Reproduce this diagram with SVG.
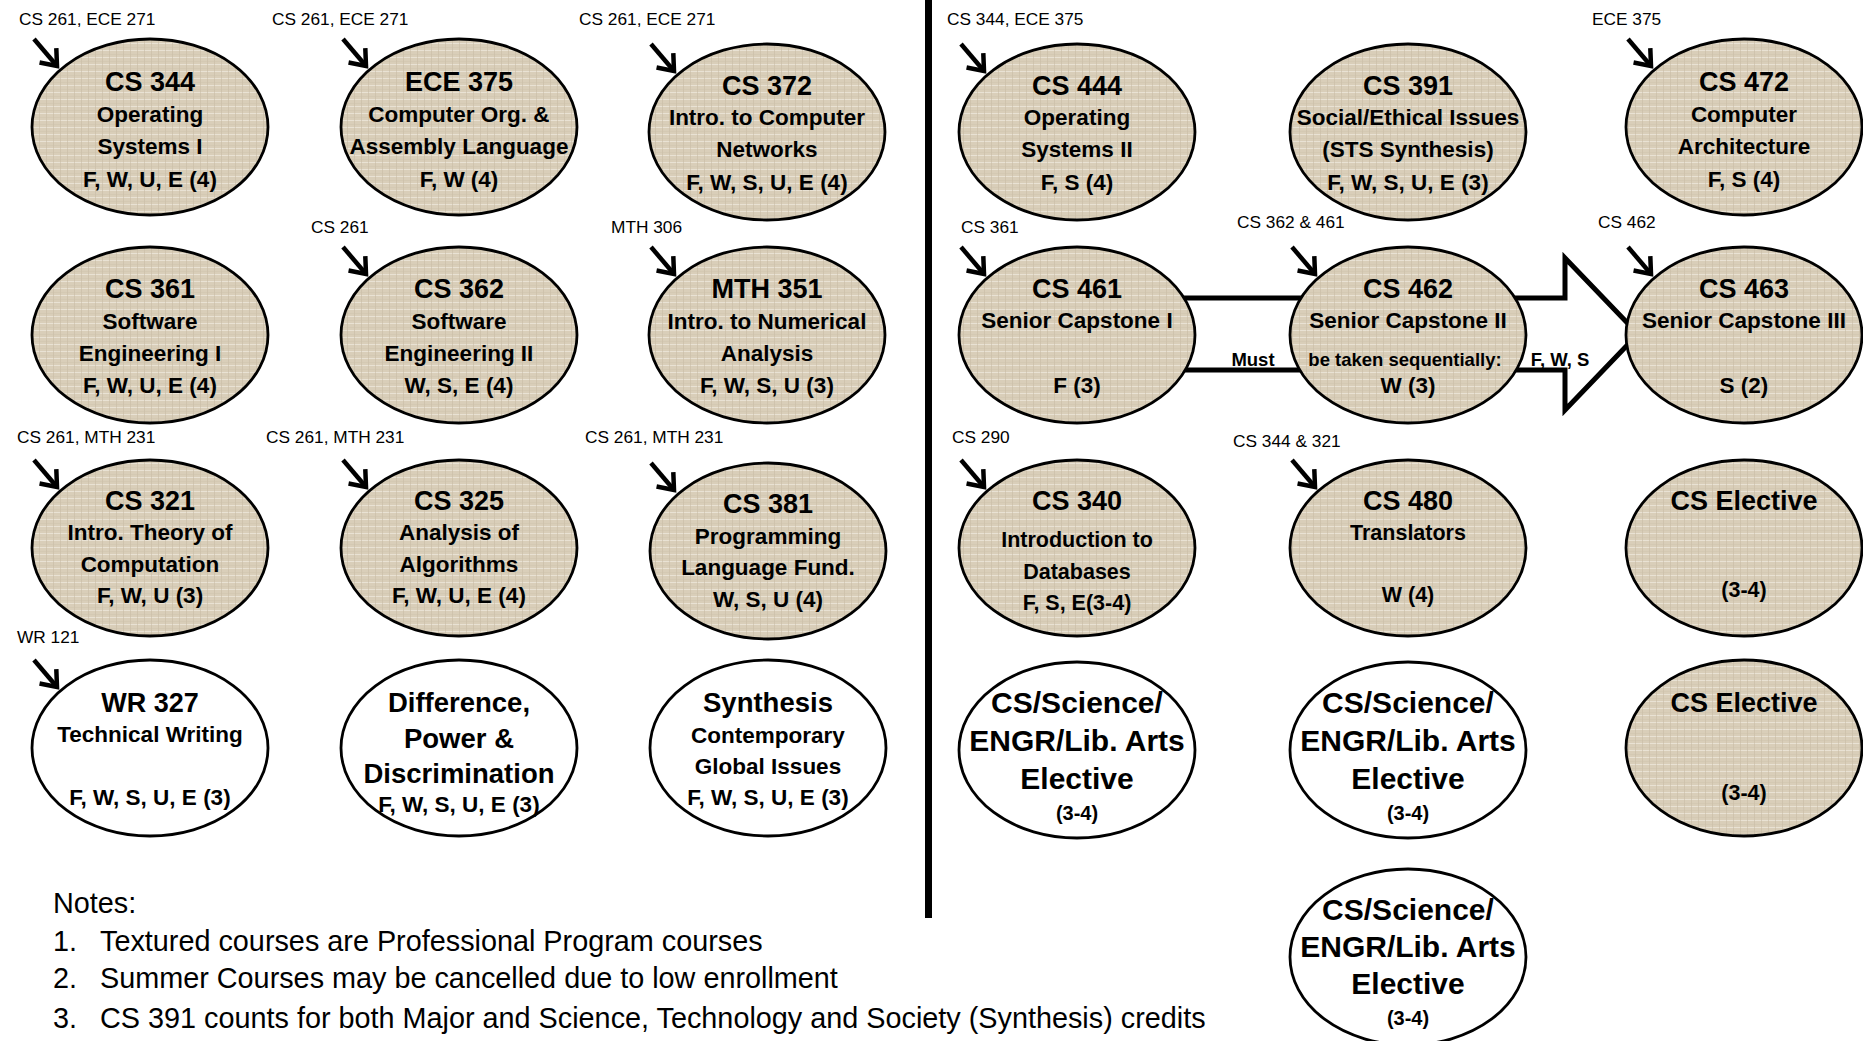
<svg xmlns="http://www.w3.org/2000/svg" width="1863" height="1041" viewBox="0 0 1863 1041">
<style>
.tex{fill:url(#linen);stroke:#000;stroke-width:2.8}
.pl{fill:#fff;stroke:#000;stroke-width:2.8}
text{font-family:"Liberation Sans",Arial,sans-serif;fill:#000}
.t{font-weight:bold;text-anchor:middle}
.h{font-size:27px}
.b{font-size:22.5px}
.s{font-size:21.5px}
.big{font-size:27.5px}
.el{font-size:30px}
.sm{font-size:20px}
.seq{font-size:18.5px}
.lbl{font-size:17.3px}
.note{font-size:28.8px}
.arr{stroke:#000;stroke-width:4.5;fill:none;marker-end:url(#chev)}
</style>
<defs>
<pattern id="linen" width="7" height="7" patternUnits="userSpaceOnUse">
<rect width="7" height="7" fill="#d9ceb9"/>
<path d="M0,1.5H7" stroke="#e9e2d4" stroke-width="1"/>
<path d="M4.5,0V7" stroke="#c6baa4" stroke-width="1" opacity="0.55"/>
<path d="M0,5.5H7" stroke="#cdc1ab" stroke-width="0.8" opacity="0.5"/>
</pattern>
<marker id="chev" viewBox="-20 -16 26 32" refX="0" refY="0" markerWidth="26" markerHeight="32" markerUnits="userSpaceOnUse" orient="auto" overflow="visible">
<path d="M-14,-11 L0,0 L-14,11" fill="none" stroke="#000" stroke-width="4.5"/>
</marker>
</defs>
<rect width="1863" height="1041" fill="#fff"/>

<g id="connectors">
<path id="sequence-arrow" d="M1150,298 L1565,298 L1565,258 L1638,334 L1565,410 L1565,370 L1150,370 Z" fill="#fff" stroke="#000" stroke-width="5" stroke-linejoin="miter"/>
<text class="t seq" x="1253" y="366">Must</text>
<text class="t seq" x="1560" y="366">F, W, S</text>
<line class="arr" x1="34" y1="39" x2="57" y2="66"/>
<line class="arr" x1="343" y1="39" x2="366" y2="66"/>
<line class="arr" x1="651" y1="44" x2="674" y2="71"/>
<line class="arr" x1="961" y1="44" x2="984" y2="71"/>
<line class="arr" x1="1628" y1="39" x2="1651" y2="66"/>
<line class="arr" x1="343" y1="247" x2="366" y2="274"/>
<line class="arr" x1="651" y1="247" x2="674" y2="274"/>
<line class="arr" x1="961" y1="247" x2="984" y2="274"/>
<line class="arr" x1="1292" y1="247" x2="1315" y2="274"/>
<line class="arr" x1="1628" y1="247" x2="1651" y2="274"/>
<line class="arr" x1="34" y1="460" x2="57" y2="487"/>
<line class="arr" x1="343" y1="460" x2="366" y2="487"/>
<line class="arr" x1="651" y1="463" x2="674" y2="490"/>
<line class="arr" x1="961" y1="460" x2="984" y2="487"/>
<line class="arr" x1="1292" y1="460" x2="1315" y2="487"/>
<line class="arr" x1="34" y1="660" x2="57" y2="687"/>
</g>

<g id="prereq-labels">
<text class="lbl" x="19" y="25">CS 261, ECE 271</text>
<text class="lbl" x="272" y="25">CS 261, ECE 271</text>
<text class="lbl" x="579" y="25">CS 261, ECE 271</text>
<text class="lbl" x="947" y="25">CS 344, ECE 375</text>
<text class="lbl" x="1592" y="25">ECE 375</text>
<text class="lbl" x="311" y="233">CS 261</text>
<text class="lbl" x="611" y="233">MTH 306</text>
<text class="lbl" x="961" y="233">CS 361</text>
<text class="lbl" x="1237" y="228">CS 362 &amp; 461</text>
<text class="lbl" x="1598" y="228">CS 462</text>
<text class="lbl" x="17" y="443">CS 261, MTH 231</text>
<text class="lbl" x="266" y="443">CS 261, MTH 231</text>
<text class="lbl" x="585" y="443">CS 261, MTH 231</text>
<text class="lbl" x="952" y="443">CS 290</text>
<text class="lbl" x="1233" y="447">CS 344 &amp; 321</text>
<text class="lbl" x="17" y="643">WR 121</text>
</g>

<rect id="divider" x="925" y="0" width="7" height="918" fill="#000"/>

<g id="cs344"><ellipse class="tex" cx="150" cy="127" rx="118" ry="88"/>
<text class="t h" x="150" y="91">CS 344</text><text class="t b" x="150" y="122">Operating</text><text class="t b" x="150" y="154">Systems I</text><text class="t b" x="150" y="187">F, W, U, E (4)</text></g>
<g id="ece375"><ellipse class="tex" cx="459" cy="127" rx="118" ry="88"/>
<text class="t h" x="459" y="91">ECE 375</text><text class="t b" x="459" y="122">Computer Org. &amp;</text><text class="t b" x="459" y="154">Assembly Language</text><text class="t b" x="459" y="187">F, W (4)</text></g>
<g id="cs372"><ellipse class="tex" cx="767" cy="132" rx="118" ry="88"/>
<text class="t h" x="767" y="95">CS 372</text><text class="t b" x="767" y="125">Intro. to Computer</text><text class="t b" x="767" y="157">Networks</text><text class="t b" x="767" y="190">F, W, S, U, E (4)</text></g>
<g id="cs444"><ellipse class="tex" cx="1077" cy="132" rx="118" ry="88"/>
<text class="t h" x="1077" y="95">CS 444</text><text class="t b" x="1077" y="125">Operating</text><text class="t b" x="1077" y="157">Systems II</text><text class="t b" x="1077" y="190">F, S (4)</text></g>
<g id="cs391"><ellipse class="tex" cx="1408" cy="132" rx="118" ry="88"/>
<text class="t h" x="1408" y="95">CS 391</text><text class="t b" x="1408" y="125">Social/Ethical Issues</text><text class="t b" x="1408" y="157">(STS Synthesis)</text><text class="t b" x="1408" y="190">F, W, S, U, E (3)</text></g>
<g id="cs472"><ellipse class="tex" cx="1744" cy="127" rx="118" ry="88"/>
<text class="t h" x="1744" y="91">CS 472</text><text class="t b" x="1744" y="122">Computer</text><text class="t b" x="1744" y="154">Architecture</text><text class="t b" x="1744" y="187">F, S (4)</text></g>

<g id="cs361"><ellipse class="tex" cx="150" cy="335" rx="118" ry="88"/>
<text class="t h" x="150" y="298">CS 361</text><text class="t b" x="150" y="329">Software</text><text class="t b" x="150" y="361">Engineering I</text><text class="t b" x="150" y="393">F, W, U, E (4)</text></g>
<g id="cs362"><ellipse class="tex" cx="459" cy="335" rx="118" ry="88"/>
<text class="t h" x="459" y="298">CS 362</text><text class="t b" x="459" y="329">Software</text><text class="t b" x="459" y="361">Engineering II</text><text class="t b" x="459" y="393">W, S, E (4)</text></g>
<g id="mth351"><ellipse class="tex" cx="767" cy="335" rx="118" ry="88"/>
<text class="t h" x="767" y="298">MTH 351</text><text class="t b" x="767" y="329">Intro. to Numerical</text><text class="t b" x="767" y="361">Analysis</text><text class="t b" x="767" y="393">F, W, S, U (3)</text></g>
<g id="cs461"><ellipse class="tex" cx="1077" cy="335" rx="118" ry="88"/>
<text class="t h" x="1077" y="298">CS 461</text><text class="t b" x="1077" y="328">Senior Capstone I</text><text class="t b" x="1077" y="393">F (3)</text></g>
<g id="cs462"><ellipse class="tex" cx="1408" cy="335" rx="118" ry="88"/>
<text class="t h" x="1408" y="298">CS 462</text><text class="t b" x="1408" y="328">Senior Capstone II</text><text class="t seq" x="1405" y="366">be taken sequentially:</text><text class="t b" x="1408" y="393">W (3)</text></g>
<g id="cs463"><ellipse class="tex" cx="1744" cy="335" rx="118" ry="88"/>
<text class="t h" x="1744" y="298">CS 463</text><text class="t b" x="1744" y="328">Senior Capstone III</text><text class="t b" x="1744" y="393">S (2)</text></g>

<g id="cs321"><ellipse class="tex" cx="150" cy="548" rx="118" ry="88"/>
<text class="t h" x="150" y="510">CS 321</text><text class="t b" x="150" y="540">Intro. Theory of</text><text class="t b" x="150" y="572">Computation</text><text class="t b" x="150" y="603">F, W, U (3)</text></g>
<g id="cs325"><ellipse class="tex" cx="459" cy="548" rx="118" ry="88"/>
<text class="t h" x="459" y="510">CS 325</text><text class="t b" x="459" y="540">Analysis of</text><text class="t b" x="459" y="572">Algorithms</text><text class="t b" x="459" y="603">F, W, U, E (4)</text></g>
<g id="cs381"><ellipse class="tex" cx="768" cy="551" rx="118" ry="88"/>
<text class="t h" x="768" y="513">CS 381</text><text class="t b" x="768" y="544">Programming</text><text class="t b" x="768" y="575">Language Fund.</text><text class="t b" x="768" y="607">W, S, U (4)</text></g>
<g id="cs340"><ellipse class="tex" cx="1077" cy="548" rx="118" ry="88"/>
<text class="t h" x="1077" y="510">CS 340</text><text class="t s" x="1077" y="547">Introduction to</text><text class="t s" x="1077" y="579">Databases</text><text class="t s" x="1077" y="610">F, S, E(3-4)</text></g>
<g id="cs480"><ellipse class="tex" cx="1408" cy="548" rx="118" ry="88"/>
<text class="t h" x="1408" y="510">CS 480</text><text class="t s" x="1408" y="540">Translators</text><text class="t s" x="1408" y="602">W (4)</text></g>
<g id="cs-elective-1"><ellipse class="tex" cx="1744" cy="548" rx="118" ry="88"/>
<text class="t h" x="1744" y="510">CS Elective</text><text class="t s" x="1744" y="597">(3-4)</text></g>

<g id="wr327"><ellipse class="pl" cx="150" cy="748" rx="118" ry="88"/>
<text class="t h" x="150" y="712">WR 327</text><text class="t b" x="150" y="742">Technical Writing</text><text class="t b" x="150" y="805">F, W, S, U, E (3)</text></g>
<g id="dpd"><ellipse class="pl" cx="459" cy="748" rx="118" ry="88"/>
<text class="t big" x="459" y="712">Difference,</text><text class="t big" x="459" y="748">Power &amp;</text><text class="t big" x="459" y="783">Discrimination</text><text class="t b" x="459" y="812">F, W, S, U, E (3)</text></g>
<g id="synthesis"><ellipse class="pl" cx="768" cy="748" rx="118" ry="88"/>
<text class="t big" x="768" y="712">Synthesis</text><text class="t b" x="768" y="743">Contemporary</text><text class="t b" x="768" y="774">Global Issues</text><text class="t b" x="768" y="805">F, W, S, U, E (3)</text></g>
<g id="elective-a"><ellipse class="pl" cx="1077" cy="750" rx="118" ry="88"/>
<text class="t el" x="1077" y="713">CS/Science/</text><text class="t el" x="1077" y="751">ENGR/Lib. Arts</text><text class="t el" x="1077" y="789">Elective</text><text class="t sm" x="1077" y="820">(3-4)</text></g>
<g id="elective-b"><ellipse class="pl" cx="1408" cy="750" rx="118" ry="88"/>
<text class="t el" x="1408" y="713">CS/Science/</text><text class="t el" x="1408" y="751">ENGR/Lib. Arts</text><text class="t el" x="1408" y="789">Elective</text><text class="t sm" x="1408" y="820">(3-4)</text></g>
<g id="cs-elective-2"><ellipse class="tex" cx="1744" cy="748" rx="118" ry="88"/>
<text class="t h" x="1744" y="712">CS Elective</text><text class="t s" x="1744" y="800">(3-4)</text></g>

<g id="elective-c"><ellipse class="pl" cx="1408" cy="957" rx="118" ry="88"/>
<text class="t el" x="1408" y="920">CS/Science/</text><text class="t el" x="1408" y="957">ENGR/Lib. Arts</text><text class="t el" x="1408" y="994">Elective</text><text class="t sm" x="1408" y="1025">(3-4)</text></g>

<g id="notes">
<text class="note" x="53" y="913">Notes:</text>
<text class="note" x="53" y="951">1.</text><text class="note" x="100" y="951">Textured courses are Professional Program courses</text>
<text class="note" x="53" y="988">2.</text><text class="note" x="100" y="988">Summer Courses may be cancelled due to low enrollment</text>
<text class="note" x="53" y="1028">3.</text><text class="note" x="100" y="1028">CS 391 counts for both Major and Science, Technology and Society (Synthesis) credits</text>
</g>
</svg>
